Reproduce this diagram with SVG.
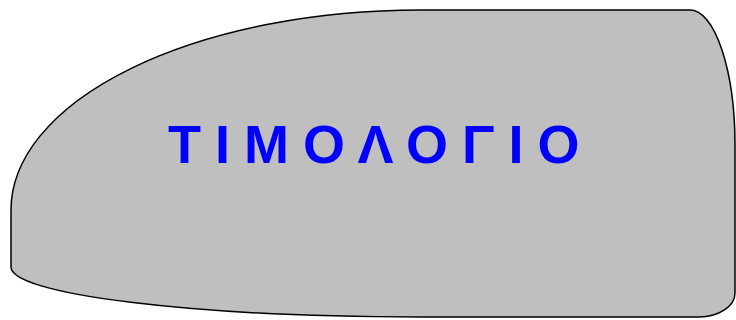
<svg xmlns="http://www.w3.org/2000/svg" width="736" height="320" viewBox="0 0 736 320">
<style>
.shape{fill:#bfbfbf;stroke:#000;stroke-width:1.5}
.label{font-family:"Liberation Sans",Arial,sans-serif;font-weight:bold;font-size:54px;fill:#0000ff;letter-spacing:14px}
</style>
<g id="node-timologio">
<path class="shape" d="M 11,267 L 11,210 A 409,200 0 0 1 420,10 L 690,10 A 45,135 0 0 1 735,145 L 735,293 A 36,24 0 0 1 699,317 L 420,317 A 409,50 0 0 1 11,267 Z"/>
<text class="label" x="168" y="163">ΤΙΜΟΛΟΓΙΟ</text>
</g>
<g id="connectors"/>
</svg>
